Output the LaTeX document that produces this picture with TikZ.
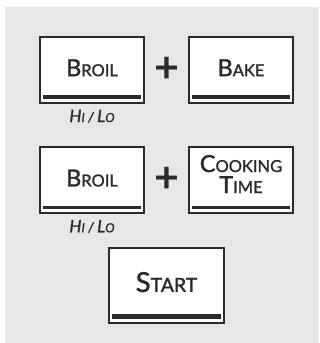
\documentclass[tikz,border=0pt]{standalone}
\usepackage{fontspec}
\setmainfont{Lato}
\newfontfamily\keyfont{Lato}[FakeBold=1.4]
\usetikzlibrary{positioning,calc}
\definecolor{panelgray}{HTML}{E6E7E8}
\definecolor{keyline}{HTML}{2A2A2A}
% fake small caps: big first letter, smaller rest
\newcommand{\keycap}[2]{{\fontsize{23.5}{21}\selectfont #1}{\fontsize{16.5}{21}\selectfont #2}}
\newcommand{\startcap}[2]{{\fontsize{27.5}{30}\selectfont #1}{\fontsize{19.5}{22}\selectfont #2}}
\newcommand{\notecap}[2]{{\fontsize{17}{17}\selectfont #1}{\fontsize{12.5}{13}\selectfont #2}}

\begin{document}
\begin{tikzpicture}[
  x=1pt,y=-1pt,
  key/.style={draw=keyline,line width=1.8pt,fill=white,
    minimum width=104pt,minimum height=66pt,inner sep=0pt},
  startkey/.style={key,minimum width=115pt,minimum height=75pt},
  keytext/.style={text=keyline,inner sep=0pt,align=center,text depth=0pt,
    font=\keyfont\fontsize{16.5}{21}\selectfont},
  bar/.style={draw=keyline,line width=3.5pt},
  plus/.style={text=keyline,inner sep=0pt,font=\fontsize{43}{43}\selectfont\bfseries},
  note/.style={text=keyline,inner sep=0pt,font=\keyfont\itshape\fontsize{14}{15}\selectfont}
]
  \useasboundingbox (0,0) rectangle (320,343);
  \fill[panelgray] (5,7) rectangle (319,343);

  \node[key] (broilA) at (92,69.75) {};
  \node[key] (bake) at (241,69.75) {};
  \node[key] (broilB) at (92,180) {};
  \node[key] (cooktime) at (241,180) {};
  \node[startkey] (start) at (166.5,285.5) {};

  \node[keytext] (broilAtext) at ([yshift=2pt]broilA.center) {\keycap{B}{ROIL}};
  \node[keytext] (baketext) at ([yshift=2pt]bake.center) {\keycap{B}{AKE}};
  \node[keytext] (broilBtext) at ([yshift=2pt]broilB.center) {\keycap{B}{ROIL}};
  \node[keytext] (cooktimetext) at ([yshift=6pt]cooktime.center)
    {\keycap{C}{OOKING}\\\keycap{T}{IME}};
  \node[keytext] (starttext) at ([yshift=3.5pt]start.center) {\startcap{S}{TART}};

  \foreach \k in {broilA,bake,broilB,cooktime}
    \draw[bar] ([shift={(3.5pt,6.5pt)}]\k.south west) -- ([shift={(-3.5pt,6.5pt)}]\k.south east);
  \draw[bar,line width=4.5pt] ([shift={(3.5pt,7.5pt)}]start.south west) -- ([shift={(-3.5pt,7.5pt)}]start.south east);

  \node[plus] (plusA) at ($(broilA.east)!.5!(bake.west)$) {+};
  \node[plus] (plusB) at ($(broilB.east)!.5!(cooktime.west)$) {+};

  \node[note,below=6pt of broilA] (hiloA) {\notecap{H}{I} / \notecap{L}{O}};
  \node[note,below=6pt of broilB] (hiloB) {\notecap{H}{I} / \notecap{L}{O}};
\end{tikzpicture}
\end{document}
